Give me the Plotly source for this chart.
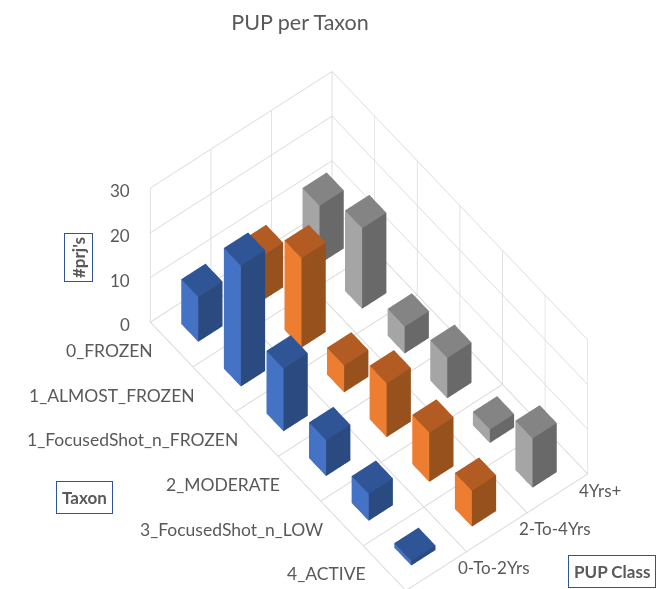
import plotly.graph_objects as go

taxa = ["0_FROZEN", "1_ALMOST_FROZEN", "1_FocusedShot_n_FROZEN", "2_MODERATE", "3_FocusedShot_n_LOW", "4_ACTIVE"]
classes = ["0-To-2Yrs", "2-To-4Yrs", "4Yrs+"]
blue_0_2 = [10, 27, 14, 8, 6, 1]
orange_2_4 = [10, 20, 6, 12, 11, 8]
gray_4p = [13, 18, 6, 9, 3, 11]
z_ticks = [0, 10, 20, 30]
series = [blue_0_2, orange_2_4, gray_4p]
shades = [("#4472C4", "#2F5597", "#2A4A80"),
          ("#ED7D31", "#B25B22", "#96511C"),
          ("#A5A5A5", "#848484", "#696969")]
GRID = "#DADADA"
TXT = "#595959"
FONT = "Lato, 'Open Sans', sans-serif"
W = 0.40

def bar_mesh(name, vals, j, cols):
    X, Y, Z, I, J, K, F = [], [], [], [], [], [], []
    light, top, dark = cols
    for i, v in enumerate(vals):
        x0, x1 = i + .5 - W / 2, i + .5 + W / 2
        y0, y1 = j + .5 - W / 2, j + .5 + W / 2
        n = len(X)
        X += [x0, x1, x1, x0, x0, x1, x1, x0]
        Y += [y0, y0, y1, y1, y0, y0, y1, y1]
        Z += [0, 0, 0, 0, v, v, v, v]
        faces = [((4, 5, 6), top), ((4, 6, 7), top),
                 ((0, 1, 5), light), ((0, 5, 4), light),
                 ((1, 2, 6), dark), ((1, 6, 5), dark),
                 ((2, 3, 7), dark), ((2, 7, 6), dark),
                 ((3, 0, 4), light), ((3, 4, 7), light),
                 ((0, 2, 1), dark), ((0, 3, 2), dark)]
        for (a, b, c), col in faces:
            I.append(n + a); J.append(n + b); K.append(n + c); F.append(col)
    return go.Mesh3d(x=X, y=Y, z=Z, i=I, j=J, k=K, facecolor=F, flatshading=True, name=name,
                     lighting=dict(ambient=1, diffuse=0, specular=0, fresnel=0, roughness=1),
                     showscale=False, hoverinfo="name")

fig = go.Figure([bar_mesh(classes[j], series[j], j, shades[j]) for j in range(3)])

axis = dict(showbackground=False, showticklabels=False, title=dict(text=""), gridcolor=GRID, gridwidth=2,
            showline=False, zeroline=False, showspikes=False, ticks="", mirror=False)
annots = []
for i, t in enumerate(taxa):
    annots.append(dict(x=i + .5, y=0, z=0, text=t, showarrow=False, xanchor="right", yanchor="middle",
                       xshift=-17, yshift=-6, font=dict(family=FONT, size=17.5, color=TXT)))
for j, c in enumerate(classes):
    annots.append(dict(x=6, y=j + .5, z=0, text=c, showarrow=False, xanchor="left", yanchor="middle",
                       xshift=20, yshift=3, font=dict(family=FONT, size=17, color=TXT)))
for v in z_ticks:
    annots.append(dict(x=0, y=0, z=v, text=str(v), showarrow=False, xanchor="right", yanchor="middle",
                       xshift=-18, yshift=-3, font=dict(family=FONT, size=17, color=TXT)))

fig.update_layout(
    width=666, height=589, margin=dict(l=0, r=0, t=0, b=0), paper_bgcolor="white", showlegend=False,
    title=dict(text="PUP per Taxon", x=292 / 666, xanchor="center", y=1 - 14 / 589, yanchor="middle",
               font=dict(family=FONT, size=21.5, color=TXT)),
    scene=dict(
        domain=dict(x=[0.1051, 0.979], y=[0.009, 0.895]),
        xaxis=dict(axis, range=[0, 6], tickvals=list(range(7))),
        yaxis=dict(axis, range=[0, 3], tickvals=list(range(4))),
        zaxis=dict(axis, range=[0, 30], tickvals=z_ticks),
        aspectmode="manual", aspectratio=dict(x=1.59, y=.884, z=.9),
        camera=dict(projection=dict(type="orthographic"),
                    eye=dict(x=.449 * 3.39, y=-.351 * 3.39, z=.82 * 3.39),
                    up=dict(x=.0271, y=.0347, z=1)),
        annotations=annots),
    annotations=[
        dict(x=70 / 666, y=1 - 250 / 589, xref="paper", yref="paper", xanchor="center", yanchor="middle",
             text="<b>#prj's</b>", textangle=-90, showarrow=False,
             font=dict(family=FONT, size=17, color=TXT), bordercolor="#2F5597", borderwidth=1, borderpad=3),
        dict(x=76 / 666, y=1 - 489 / 589, xref="paper", yref="paper", xanchor="center", yanchor="middle",
             text="<b>Taxon</b>", showarrow=False,
             font=dict(family=FONT, size=17, color=TXT), bordercolor="#2F5597", borderwidth=1, borderpad=5),
        dict(x=604 / 666, y=1 - 563 / 589, xref="paper", yref="paper", xanchor="center", yanchor="middle",
             text="<b>PUP Class</b>", showarrow=False,
             font=dict(family=FONT, size=17, color=TXT), bordercolor="#2F5597", borderwidth=1, borderpad=5),
    ],
)
fig.write_html("out.html")
